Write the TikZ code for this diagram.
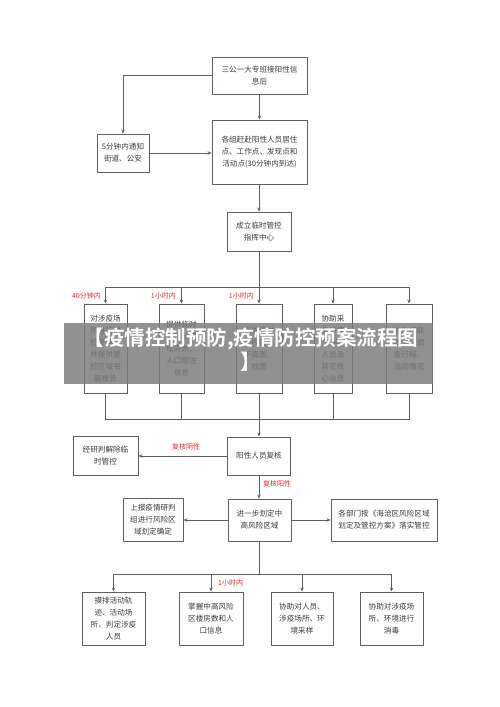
\documentclass[tikz,border=0pt]{standalone}
\usepackage{fontspec}
\setmainfont{Noto Sans CJK SC}
\newfontfamily\cjkbold{Noto Sans CJK SC Bold}
\usetikzlibrary{arrows.meta}
\definecolor{boxline}{RGB}{95,95,105}
\definecolor{conn}{RGB}{95,95,95}
\definecolor{txt}{RGB}{60,60,60}
\definecolor{redlab}{RGB}{225,45,45}
\tikzset{
  bx/.style={draw=boxline, line width=0.9pt, fill=white, inner sep=0pt, align=center,
    text=txt, font=\fontsize{7.6}{12}\selectfont},
  conline/.style={draw=conn, line width=0.75pt},
  arr/.style={conline, -{Stealth[length=4pt,width=3.4pt]}},
  lab/.style={text=redlab, font=\fontsize{7}{8}\selectfont, inner sep=0pt},
}
\begin{document}
\begin{tikzpicture}[x=1pt,y=-1pt]
\useasboundingbox (0,0) rectangle (500,707);
\fill[white] (0,0) rectangle (500,707);
% top part
\node[bx, minimum width=95pt, minimum height=37pt] (A) at (259.5,75.5) {三公一大专班接阳性信\\息后};
\node[bx, minimum width=52pt, minimum height=38pt] (F) at (123,153) {5分钟内通知\\街道、公安};
\node[bx, minimum width=95pt, minimum height=64pt] (B) at (259.5,152) {各组赶赴阳性人员居住\\点、工作点、发现点和\\活动点(30分钟内到达)};
\node[bx, minimum width=64pt, minimum height=39pt] (C) at (259,231.5) {成立临时管控\\指挥中心};
\coordinate (Fk) at (123,75.5);
\draw[conline] (A.west) -- (Fk);
\draw[arr] (Fk) -- (F.north);
\draw[arr] (F.east) -- (F.east -| B.west);
\draw[arr] (A.south) -- (B.north);
\draw[arr] (B.south) -- (C.south |- B.south) -- (C.north);
% five boxes
\node[bx, minimum width=43pt, minimum height=89pt] (P1) at (105.5,348.5) {对涉疫场\\所进行封\\控管理，\\并提供管\\控区域书\\面报告};
\node[bx, minimum width=45pt, minimum height=89pt] (P2) at (181.5,348.5) {提供临时\\管控区域\\楼房数、\\人口居住\\信息};
\node[bx, minimum width=46pt, minimum height=89pt] (P3) at (259,348.5) {提供临时\\管控区域\\平面图、\\地图};
\node[bx, minimum width=38pt, minimum height=89pt] (P4) at (333,348.5) {协助采\\集涉疫\\密接\\人员及\\其它核\\心信息};
\node[bx, minimum width=46pt, minimum height=89pt] (P5) at (409,348.5) {协助调取\\视频，调\\查行程、\\活动情况};
\coordinate (H1) at (259,287);
\coordinate (H1a) at (105.5,287);
\coordinate (H1e) at (409,287);
\draw[conline] (C.south) -- (H1);
\draw[conline] (H1a) -- (H1e);
\draw[arr] (H1a) -- (P1.north);
\draw[arr] (P2.north |- H1) -- (P2.north);
\draw[arr] (H1) -- (P3.north);
\draw[arr] (P4.north |- H1) -- (P4.north);
\draw[arr] (H1e) -- (P5.north);
\node[lab, anchor=east] (L1) at (101,296) {40分钟内};
\node[lab, anchor=east] (L2) at (176,296) {1小时内};
\node[lab, anchor=east] (L3) at (254,296) {1小时内};
% review
\node[bx, minimum width=63pt, minimum height=38pt] (R) at (259,456) {阳性人员复核};
\node[bx, minimum width=65pt, minimum height=39pt] (N) at (105.5,456) {经研判解除临\\时管控};
\coordinate (H2a) at (105.5,419.5);
\coordinate (H2e) at (409,419.5);
\draw[conline] (P1.south) -- (H2a) -- (H2e) -- (P5.south);
\draw[conline] (P2.south) -- (P2.south |- H2a);
\draw[conline] (P4.south) -- (P4.south |- H2a);
\draw[conline] (P3.south) -- (P3.south |- H2a);
\draw[arr] (R.north |- H2a) -- (R.north);
\draw[arr] (R.west) -- (N.east);
\node[lab] (L4) at (186,447) {复核阴性};
% zones
\node[bx, minimum width=63pt, minimum height=42pt] (Z) at (259.5,520) {进一步划定中\\高风险区域};
\node[bx, minimum width=60pt, minimum height=43pt] (U) at (153,520) {上报疫情研判\\组进行风险区\\域划定确定};
\node[bx, minimum width=106pt, minimum height=42pt] (D) at (384,520) {各部门按《海沧区风险区域\\划定及管控方案》落实管控};
\draw[arr] (R.south) -- (R.south |- Z.north);
\node[lab, anchor=west] (L5) at (263,484) {复核阳性};
\draw[arr] (Z.west) -- (U.east);
\draw[arr] (Z.east) -- (D.west);
% bottom row
\node[bx, minimum width=63pt, minimum height=53pt] (Q1) at (113.5,618.5) {摸排活动轨\\迹、活动场\\所、判定涉疫\\人员};
\node[bx, minimum width=64pt, minimum height=53pt] (Q2) at (211,618.5) {掌握中高风险\\区楼房数和人\\口信息};
\node[bx, minimum width=62pt, minimum height=53pt] (Q3) at (302,618.5) {协助对人员、\\涉疫场所、环\\境采样};
\node[bx, minimum width=63pt, minimum height=53pt] (Q4) at (391.5,618.5) {协助对涉疫场\\所、环境进行\\消毒};
\coordinate (H3) at (259.5,574);
\coordinate (H3a) at (113.5,574);
\coordinate (H3e) at (391.5,574);
\draw[conline] (Z.south) -- (H3);
\draw[conline] (H3a) -- (H3e);
\draw[arr] (H3a) -- (Q1.north);
\draw[arr] (Q2.north |- H3) -- (Q2.north);
\draw[arr] (Q3.north |- H3) -- (Q3.north);
\draw[arr] (H3e) -- (Q4.north);
\node[lab, anchor=west] (L6) at (218,583) {1小时内};
% banner
\fill[black!52, opacity=0.82] (64,323) rectangle (433,384);
\node[text=white, align=center, font=\cjkbold\fontsize{20.5}{24}\selectfont, inner sep=0pt] (T) at (251,350)
  {【疫情控制预防,疫情防控预案流程图\\】};
\end{tikzpicture}
\end{document}
